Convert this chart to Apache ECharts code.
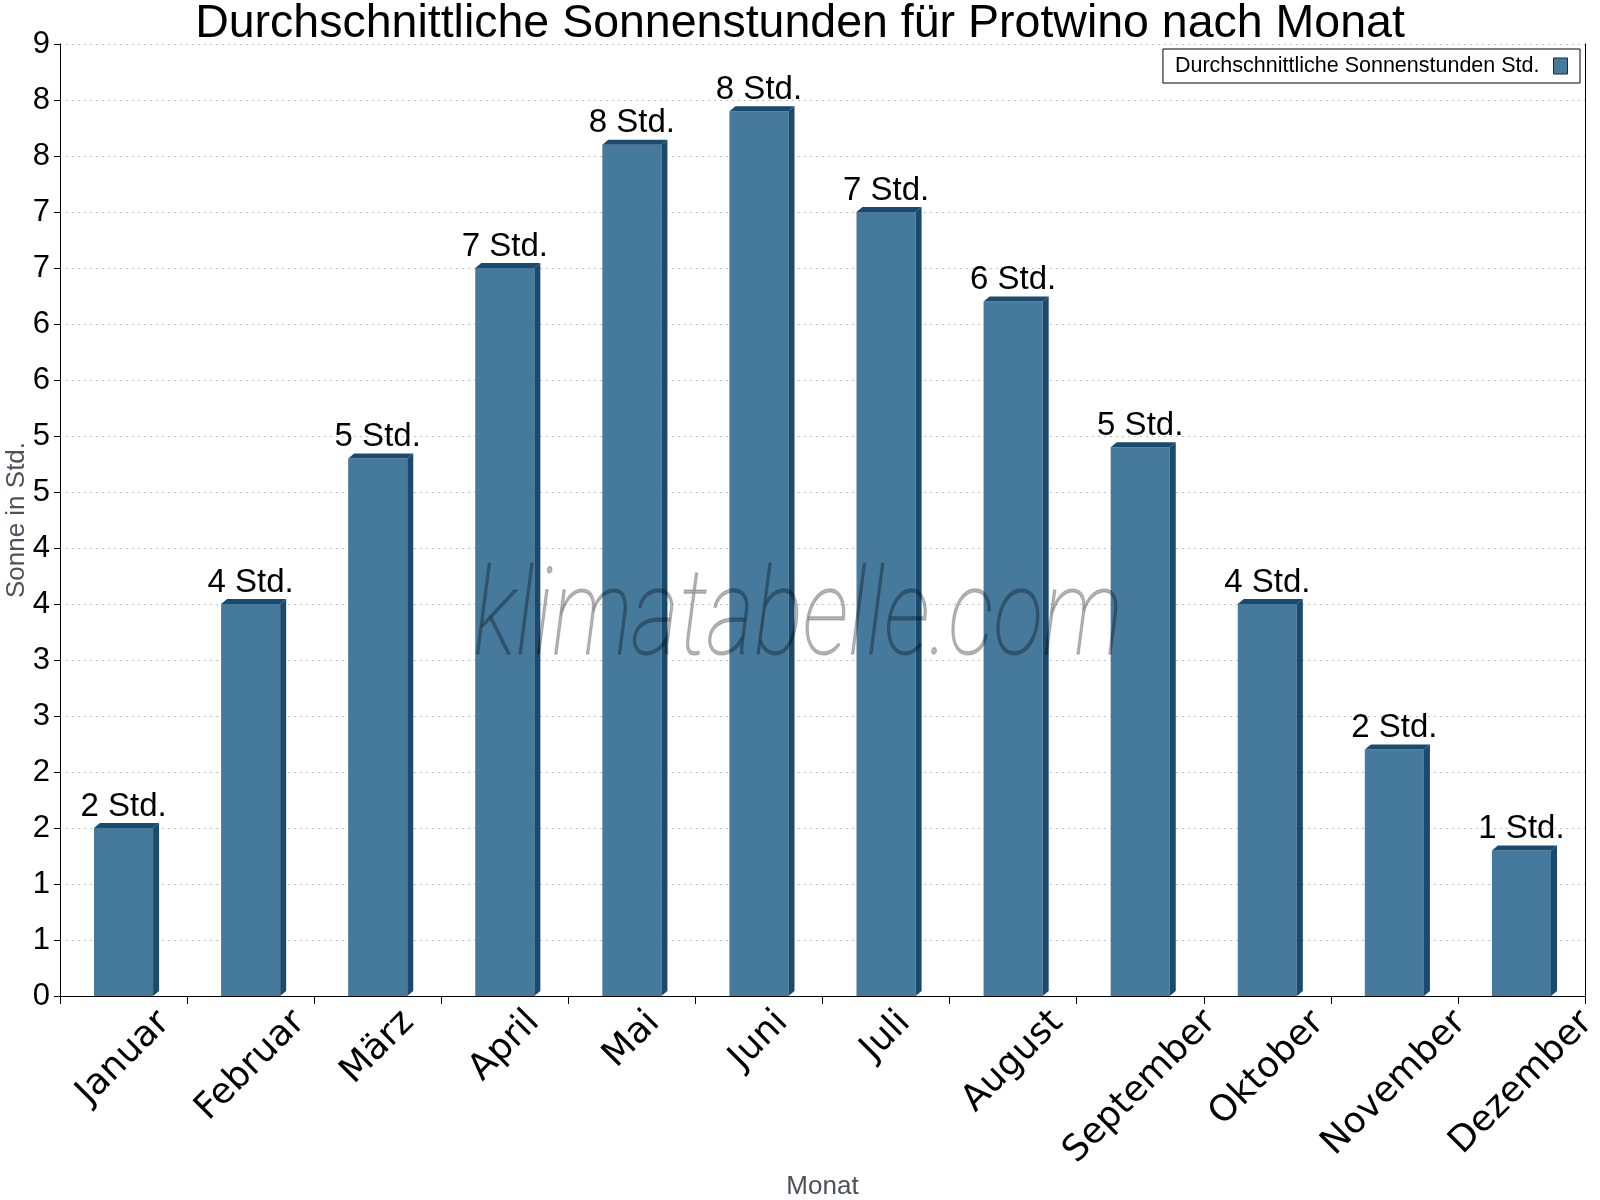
<!DOCTYPE html>
<html>
<head>
<meta charset="utf-8">
<script src="https://cdn.jsdelivr.net/npm/echarts@6/dist/echarts.min.js"></script>
<style>
html, body { margin: 0; padding: 0; background: #fff; }
#chart { width: 1600px; height: 1200px; }
</style>
</head>
<body>
<div id="chart"></div>
<script>
// Monate und durchschnittliche Sonnenstunden pro Tag
var months = ['Januar', 'Februar', 'März', 'April', 'Mai', 'Juni', 'Juli', 'August', 'September', 'Oktober', 'November', 'Dezember'];
var sunHours = [1.5, 3.5, 4.8, 6.5, 7.6, 7.9, 7.0, 6.2, 4.9, 3.5, 2.2, 1.3];
var seriesName = 'Durchschnittliche Sonnenstunden Std.';
var yMin = 0, yMax = 8.5, yStep = 0.5;

var frontColor = '#467a9d';
var darkColor = '#1a4a6c';

var sunChart = echarts.init(document.getElementById('chart'));

// x labels are rotated round their own centre, so push each one down by half its width
var labelSize = 36;
var measure = document.createElement('canvas').getContext('2d');
measure.font = labelSize + 'px "DejaVu Sans"';
var monthRich = {};
months.forEach(function (m, i) {
    var p = Math.round(measure.measureText(m).width / 2);
    monthRich['m' + i] = {
        fontSize: labelSize,
        fontFamily: 'DejaVu Sans',
        color: '#000',
        padding: [p, p, 0, 0]
    };
});

function renderBar(params, api) {
    var top = api.coord([api.value(0), api.value(1)]);
    var base = api.coord([api.value(0), 0]);
    var bw = api.size([1, 0])[0] * 0.465;
    var x0 = top[0] - bw / 2;
    var x1 = top[0] + bw / 2;
    var dx = 6, dy = 5;
    return {
        type: 'group',
        children: [
            {
                type: 'rect',
                shape: { x: x0, y: top[1], width: bw, height: base[1] - top[1] },
                style: { fill: frontColor },
                textContent: {
                    style: {
                        text: Math.round(api.value(1)) + ' Std.',
                        font: '33px "Liberation Sans"',
                        fill: '#000'
                    }
                },
                textConfig: { position: 'top', distance: 5 }
            },
            {
                type: 'polygon',
                shape: { points: [[x0, top[1]], [x0 + dx, top[1] - dy], [x1 + dx, top[1] - dy], [x1, top[1]]] },
                style: { fill: darkColor }
            },
            {
                type: 'polygon',
                shape: { points: [[x1, top[1]], [x1 + dx, top[1] - dy], [x1 + dx, base[1] - dy], [x1, base[1]]] },
                style: { fill: darkColor }
            }
        ]
    };
}

var sunOption = {
    backgroundColor: '#fff',
    title: {
        text: 'Durchschnittliche Sonnenstunden für Protwino nach Monat',
        left: 'center',
        top: 1,
        padding: 0,
        textStyle: {
            fontFamily: 'Liberation Sans',
            fontSize: 46.5,
            fontWeight: 'normal',
            color: '#000'
        }
    },
    legend: {
        data: [{
            name: seriesName,
            icon: 'rect',
            itemStyle: { color: frontColor, borderColor: '#1b2b38', borderWidth: 1 }
        }],
        right: 20,
        top: 49,
        align: 'right',
        itemWidth: 14,
        itemHeight: 16,
        itemGap: 14,
        padding: [6, 12, 6, 12],
        borderColor: '#000',
        borderWidth: 1,
        backgroundColor: '#fff',
        textStyle: { fontFamily: 'Liberation Sans', fontSize: 21.5, color: '#000', padding: [0, 9, 0, 0] }
    },
    grid: {
        left: 60,
        right: 15,
        top: 44,
        bottom: 204,
        outerBoundsMode: 'none'
    },
    graphic: [{
        type: 'text',
        x: 798,
        y: 684,
        scaleX: 0.765,
        silent: true,
        z: 100,
        style: {
            text: 'klimatabelle.com',
            font: 'italic 100 120px Roboto',
            fill: 'rgba(0,0,0,0.28)',
            stroke: 'rgba(0,0,0,0.2)',
            lineWidth: 1.5,
            textAlign: 'center',
            textVerticalAlign: 'bottom'
        }
    }],
    xAxis: {
        type: 'category',
        data: months,
        boundaryGap: true,
        name: 'Monat',
        nameLocation: 'middle',
        nameGap: 178,
        nameMoveOverlap: false,
        nameTextStyle: { fontFamily: 'Liberation Sans', fontSize: 26, color: '#4a525c' },
        axisLine: { show: true, lineStyle: { color: '#000', width: 1 } },
        axisTick: { show: true, length: 8, lineStyle: { color: '#000' } },
        axisLabel: {
            interval: 0,
            rotate: 45,
            margin: 21,
            align: 'center',
            verticalAlign: 'middle',
            formatter: function (value, index) {
                return '{m' + index + '|' + value + '}';
            },
            rich: monthRich
        },
        splitLine: { show: false }
    },
    yAxis: [
        {
            type: 'value',
            min: yMin,
            max: yMax,
            interval: yStep,
            name: 'Sonne in Std.',
            nameLocation: 'middle',
            nameGap: 30,
            nameRotate: 90,
            nameMoveOverlap: false,
            nameTextStyle: { fontFamily: 'Liberation Sans', fontSize: 26, color: '#4a525c' },
            axisLine: { show: true, lineStyle: { color: '#000', width: 1 } },
            axisTick: { show: true, length: 6, lineStyle: { color: '#000' } },
            axisLabel: {
                margin: 10,
                fontFamily: 'Liberation Sans',
                fontSize: 31,
                color: '#000',
                formatter: function (v) { return String(Math.round(v)); }
            },
            splitLine: { show: true, lineStyle: { color: '#c4c4c4', type: [2, 4], width: 1 } }
        },
        {
            type: 'value',
            min: yMin,
            max: yMax,
            interval: yStep,
            position: 'right',
            axisLine: { show: true, lineStyle: { color: '#000', width: 1 } },
            axisTick: { show: false },
            axisLabel: { show: false },
            splitLine: { show: false }
        }
    ],
    series: [{
        name: seriesName,
        type: 'custom',
        renderItem: renderBar,
        itemStyle: { color: frontColor },
        encode: { x: 0, y: 1 },
        data: months.map(function (m, i) { return [i, sunHours[i]]; })
    }]
};

sunChart.setOption(sunOption);
</script>
</body>
</html>
